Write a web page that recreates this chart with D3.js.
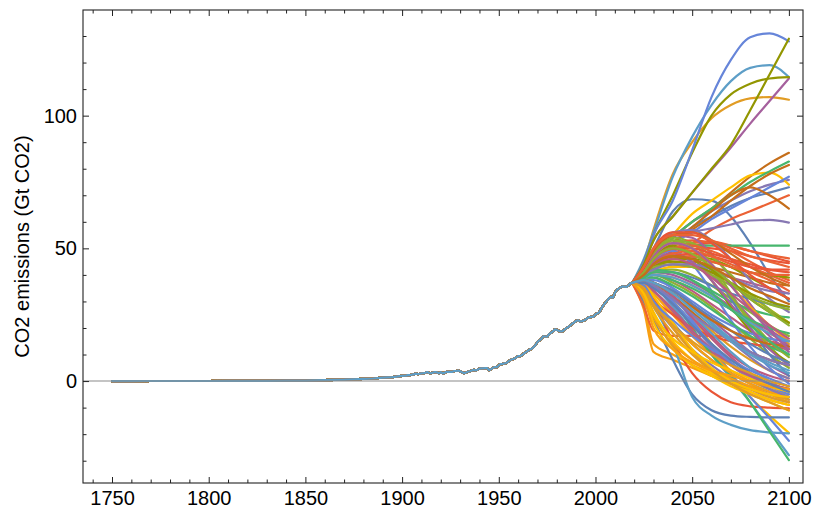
<!DOCTYPE html>
<html>
<head>
<meta charset="utf-8">
<script src="https://cdn.jsdelivr.net/npm/d3@7"></script>
<style>
  html, body { margin: 0; padding: 0; background: #fff; }
  svg { display: block; }
  text { font-family: "Liberation Sans", Arial, Helvetica, sans-serif; fill: #000; }
</style>
</head>
<body>
<svg id="chart" width="814" height="513"></svg>
<script>
// Historical fossil CO2 emissions (Gt CO2 per year)
const histYears = [1750,1760,1770,1780,1790,1800,1810,1820,1830,1840,1850,1855,1860,1865,1870,1875,1880,1885,1890,1895,
  1900,1901,1902,1903,1904,1905,1906,1907,1908,1909,1910,1911,1912,1913,1914,1915,1916,1917,1918,1919,
  1920,1921,1922,1923,1924,1925,1926,1927,1928,1929,1930,1931,1932,1933,1934,1935,1936,1937,1938,1939,
  1940,1941,1942,1943,1944,1945,1946,1947,1948,1949,1950,1951,1952,1953,1954,1955,1956,1957,1958,1959,
  1960,1961,1962,1963,1964,1965,1966,1967,1968,1969,1970,1971,1972,1973,1974,1975,1976,1977,1978,1979,
  1980,1981,1982,1983,1984,1985,1986,1987,1988,1989,1990,1991,1992,1993,1994,1995,1996,1997,1998,1999,
  2000,2001,2002,2003,2004,2005,2006,2007,2008,2009,2010,2011,2012,2013,2014,2015,2016,2017,2018,2019];
const histValues = [0.01,0.01,0.02,0.02,0.03,0.03,0.04,0.05,0.09,0.15,0.20,0.27,0.34,0.44,0.52,0.69,0.85,0.97,1.3,1.5,
  1.95,2.0,2.05,2.25,2.25,2.4,2.5,2.8,2.65,2.75,2.9,2.95,3.1,3.4,3.05,2.95,3.2,3.4,3.3,2.9,
  3.4,2.9,3.1,3.5,3.5,3.5,3.5,3.8,3.8,4.0,3.7,3.3,3.0,3.2,3.5,3.7,4.0,4.2,4.0,4.3,
  4.7,4.8,4.8,4.9,4.9,4.1,4.5,5.0,5.3,5.2,6.0,6.4,6.5,6.7,6.8,7.4,7.9,8.2,8.4,8.9,
  9.4,9.4,9.8,10.4,10.9,11.4,11.9,12.2,12.8,13.6,14.8,15.3,15.9,16.9,16.8,16.7,17.7,18.2,18.7,19.5,
  19.3,18.9,18.7,18.8,19.4,20.0,20.4,21.0,21.7,22.1,22.7,22.9,22.5,22.6,22.8,23.2,23.8,24.1,24.2,24.3,
  25.2,25.5,25.9,27.3,28.5,29.4,30.3,31.2,31.7,31.4,33.2,34.3,34.8,35.3,35.7,35.6,35.5,36.0,36.8,37.0];

// Years at which each pathway is given (they all continue from the 2019 value)
const pathYears = [2025, 2030, 2040, 2050, 2060, 2070, 2080, 2090, 2100];

// Emission pathways, Gt CO2, in drawing order
const pathwaysSet1 = [
  [44,50,64,68.5,68,62,52,40,30],
  [45,57,78,90,99,104,106.5,107,106],
  [39,40,37,33,28,22,16,10,5],
  [40,44,49,52,57,61,64,67,70],
  [41,46,54,60,64,68,71.5,74,75.8],
  [41,47,54,60,65,71,77,82,86],
  [46,56,77,92,104,113,118,119,114.5],
  [41,46,55,63,68,73,77.5,78.5,74],
  [44,53,62,71,79.5,88,97,105.5,114],
  [45,55,70,86,100,108,112,114,114.5],
  [40,43,48,51,52,51,49,47,45],
  [45,55,68,87,107,121,129.5,131,128],
  [27,11,8,5,2,-1,-4,-7,-9],
  [38,37,32,25,17,10,5,2,0],
  [41,46,54,60,65,70,75,79,82.7]
];
const pathwaysSet2 = [
  [40,45,52,58,62,66,69,71,73],
  [39,40,39,36,32,27,22,18,14],
  [38,36,30,22,14,7,2,-2,-4],
  [41,45,50,52,52.5,51,49,47.5,46.2],
  [40,45,52,56,57.5,59,60.5,60.7,59.7],
  [40,45,52,57,62,68,73.5,78,81.4],
  [38,36,28,19,10,1,-8,-18,-27.9],
  [38,36,31,24,14,3,-6,-13,-19.5],
  [39,41,40,37,33,28,23,19,15],
  [44,53,62,71,80,89,102,115.5,129],
  [40,44,49,51,50,49,47,45.5,44.4],
  [40,46,52,56,61,65,69,73,77],
  [29,14,10,6,3,0,-2,-4,-6],
  [37,34,26,18,11,6,2,-1,-3],
  [41,46,50,51,51,51,51,51,51]
];
const pathwaysSet3 = [
  [30,23,8,-5,-11,-13,-13.5,-13.7,-13.7],
  [38,36,31,25,19,13,8,4,1],
  [40,42,42,40,36,31,26,21,17],
  [28,19,17,17,17,16.5,16,15,13],
  [39,39,35,29,22,15,9,4,1],
  [41,46,52,58,64,70,73,70,65],
  [33,28,14,-6,-13,-16.5,-18.5,-19.3,-19.7],
  [39,41,43,43,41,37,32,27,22],
  [38,37,34,29,23,17,11,6,2],
  [40,43,46,47,46,43,39,35,31],
  [35,30,15,3,-4,-8,-9.5,-10,-10.3],
  [38,37,32,23,13,3,-6,-14,-22.5],
  [37,33,25,17,10,4,0,-3,-5],
  [39,40,38,34,29,24,19,15,12],
  [38,36,30,20,10,2,-8,-19,-29.8]
];
const pathwaysSet4 = [
  [36,31,22,14,8,3,-1,-4,-7],
  [40,45,50,49,42,32,22,13,6],
  [42,48,54,52,44,33,22,13,6],
  [41,46,51,53,52,49,45,41,38],
  [35,29,20,12,6,1,-3,-6,-8],
  [40,43,45,45,43,41,39,37,36],
  [37,34,27,19,12,6,1,-3,-6],
  [34,26,15,8,3,-1,-4,-7,-9],
  [42,49,55,54,48,39,29,20,13],
  [41,47,51,47,38,28,19,12,7],
  [36,31,25,20,17,15,14,13,12],
  [41,46,49,44,34,23,13,5,-1],
  [33,24,14,8,4,1,-2,-5,-8],
  [40,43,44,43,41,39,37,35,33],
  [40,42,41,38,34,30,27,25,24]
];
const pathwaysSet5 = [
  [41,47,52,50,42,31,20,10,2],
  [34,25,13,6,2,-1,-3,-5,-7],
  [41,47,53,52,47,40,33,27,22],
  [41,46,50,51,49,46,43,40,37],
  [42,49,56,57,53,46,38,31,26],
  [38,37,32,26,20,15,11,8,6],
  [37,35,31,25,18,11,5,0,-4],
  [32,22,12,6,2,-2,-5,-8,-11],
  [41,46,50,47,40,32,24,17,11],
  [40,43,46,46,45,43,41,40,39],
  [41,46,50,50,48,46,44,42,41],
  [38,38,35,30,25,21,18,16,15],
  [36,30,21,14,8,3,-1,-4,-6],
  [38,37,32,24,16,9,3,-1,-3],
  [39,39,36,32,27,22,17,13,10]
];
const pathwaysSet6 = [
  [39,41,41,39,36,33,31,29,28],
  [35,28,18,10,4,0,-3,-6,-8],
  [42,48,53,50,42,32,23,15,9],
  [40,44,47,47,45,43,41,40,40],
  [37,35,29,21,13,6,1,-3,-6],
  [42,49,55,56,53,48,43,39,36],
  [38,37,33,28,22,16,11,7,4],
  [37,32,22,12,5,0,-3,-5,-6],
  [40,45,48,45,38,29,20,12,6],
  [40,43,45,44,41,37,33,30,28],
  [40,44,47,48,47,45,43,42,42],
  [38,36,30,22,14,7,2,-2,-5],
  [41,47,52,50,44,36,28,21,15],
  [37,34,27,19,12,6,2,-1,-3],
  [39,40,38,35,31,27,23,20,18]
];
const pathwaysSet7 = [
  [38,37,34,29,24,19,14,10,7],
  [36,30,20,11,4,-1,-5,-8,-11],
  [40,43,44,43,40,36,32,29,27],
  [40,44,48,49,47,44,41,38,34],
  [40,42,44,44,42,39,36,34,33],
  [38,37,33,28,23,19,16,14,13],
  [39,40,39,36,32,27,22,18,15],
  [33,25,16,11,7,4,1,-2,-4],
  [41,47,52,50,44,36,27,19,12],
  [40,44,47,46,42,37,31,26,22],
  [43,50,56,56,52,46,40,35,31],
  [36,30,23,17,12,8,4,1,-2],
  [31,20,12,7,4,2,0,-2,-3],
  [40,44,46,44,39,33,27,21,16],
  [39,41,41,38,33,27,21,15,10]
];
const pathwaysSet8 = [
  [37,35,29,21,14,8,3,-1,-4],
  [35,29,21,15,10,6,3,0,-2],
  [41,46,50,48,43,37,31,26,21],
  [43,50,55,55,53,50,47,45,43],
  [38,36,31,25,20,15,11,8,6],
  [40,44,47,46,43,39,35,32,29],
  [38,37,33,27,21,15,10,6,3]
];

// Axis ticks
const xMajorTicks = [1750, 1800, 1850, 1900, 1950, 2000, 2050, 2100];
const xMinorTicks = [1740,1760,1770,1780,1790,1810,1820,1830,1840,1860,1870,1880,1890,1910,1920,1930,1940,
  1960,1970,1980,1990,2010,2020,2030,2040,2060,2070,2080,2090];
const yMajorTicks = [0, 50, 100];
const yMinorTicks = [-30,-20,-10,10,20,30,40,60,70,80,90,110,120,130];
const yTitle = "CO2 emissions (Gt CO2)";

// Colour cycle used for the pathways
const palette = ["#5E81B5","#E19C24","#8FB032","#EB6235","#8778B3","#C56E1A","#5D9EC7",
  "#FFBF00","#A5609D","#929600","#E95536","#6685D9","#F89F13","#BC5B80","#47B66D"];

const pathways = [].concat(pathwaysSet1, pathwaysSet2, pathwaysSet3, pathwaysSet4,
  pathwaysSet5, pathwaysSet6, pathwaysSet7, pathwaysSet8);

const frame = { left: 83, right: 803, top: 10, bottom: 483 };
const x = d3.scaleLinear().domain([1735.0, 2107.3]).range([frame.left, frame.right]);
const y = d3.scaleLinear().domain([-38.4, 139.8]).range([frame.bottom, frame.top]);

const svg = d3.select("#chart");

svg.append("defs").append("clipPath").attr("id", "plotClip")
  .append("rect")
  .attr("x", frame.left).attr("y", frame.top)
  .attr("width", frame.right - frame.left).attr("height", frame.bottom - frame.top);

const plot = svg.append("g").attr("clip-path", "url(#plotClip)");

const histLine = d3.line().x(d => x(d[0])).y(d => y(d[1]));
const pathLine = d3.line().x(d => x(d[0])).y(d => y(d[1])).curve(d3.curveMonotoneX);

const histPoints = histYears.map((yr, i) => [yr, histValues[i]]);
const lastHist = histPoints[histPoints.length - 1];

pathways.forEach((vals, i) => {
  const colour = palette[i % palette.length];
  const pts = [lastHist].concat(pathYears.map((yr, j) => [yr, vals[j]]));
  const g = plot.append("g")
    .attr("fill", "none")
    .attr("stroke", colour)
    .attr("stroke-width", 2.2)
    .attr("stroke-linejoin", "round")
    .attr("stroke-linecap", "round");
  g.append("path").attr("d", histLine(histPoints));
  g.append("path").attr("d", pathLine(pts));
});

// zero line
plot.append("line")
  .attr("x1", frame.left).attr("x2", frame.right)
  .attr("y1", y(0)).attr("y2", y(0))
  .attr("stroke", "#8a8a8a").attr("stroke-width", 1.1);

// frame
svg.append("rect")
  .attr("x", frame.left).attr("y", frame.top)
  .attr("width", frame.right - frame.left).attr("height", frame.bottom - frame.top)
  .attr("fill", "none").attr("stroke", "#222").attr("stroke-width", 1.1);

const majorLen = 6, minorLen = 3.5;
const fontSize = "20px";

function styleAxis(g) {
  g.select(".domain").remove();
  g.selectAll(".tick line").attr("stroke", "#222").attr("stroke-width", 1);
  g.selectAll("text").attr("font-size", fontSize)
    .attr("font-family", "'Liberation Sans', Arial, Helvetica, sans-serif").attr("fill", "#000");
}

// bottom
svg.append("g").attr("transform", `translate(0,${frame.bottom})`)
  .call(d3.axisBottom(x).tickValues(xMajorTicks).tickFormat(d3.format("d"))
    .tickSizeInner(-majorLen).tickSizeOuter(0).tickPadding(8))
  .call(styleAxis);
svg.append("g").attr("transform", `translate(0,${frame.bottom})`)
  .call(d3.axisBottom(x).tickValues(xMinorTicks).tickFormat("")
    .tickSizeInner(-minorLen).tickSizeOuter(0))
  .call(styleAxis);
// top
svg.append("g").attr("transform", `translate(0,${frame.top})`)
  .call(d3.axisTop(x).tickValues(xMajorTicks).tickFormat("")
    .tickSizeInner(-majorLen).tickSizeOuter(0))
  .call(styleAxis);
svg.append("g").attr("transform", `translate(0,${frame.top})`)
  .call(d3.axisTop(x).tickValues(xMinorTicks).tickFormat("")
    .tickSizeInner(-minorLen).tickSizeOuter(0))
  .call(styleAxis);
// left
svg.append("g").attr("transform", `translate(${frame.left},0)`)
  .call(d3.axisLeft(y).tickValues(yMajorTicks).tickFormat(d3.format("d"))
    .tickSizeInner(-majorLen).tickSizeOuter(0).tickPadding(6))
  .call(styleAxis);
svg.append("g").attr("transform", `translate(${frame.left},0)`)
  .call(d3.axisLeft(y).tickValues(yMinorTicks).tickFormat("")
    .tickSizeInner(-minorLen).tickSizeOuter(0))
  .call(styleAxis);
// right
svg.append("g").attr("transform", `translate(${frame.right},0)`)
  .call(d3.axisRight(y).tickValues(yMajorTicks).tickFormat("")
    .tickSizeInner(-majorLen).tickSizeOuter(0))
  .call(styleAxis);
svg.append("g").attr("transform", `translate(${frame.right},0)`)
  .call(d3.axisRight(y).tickValues(yMinorTicks).tickFormat("")
    .tickSizeInner(-minorLen).tickSizeOuter(0))
  .call(styleAxis);

// y-axis title
svg.append("text")
  .attr("transform", `translate(29,${(frame.top + frame.bottom) / 2}) rotate(-90)`)
  .attr("text-anchor", "middle")
  .attr("font-size", fontSize)
  .text(yTitle);
</script>
</body>
</html>
